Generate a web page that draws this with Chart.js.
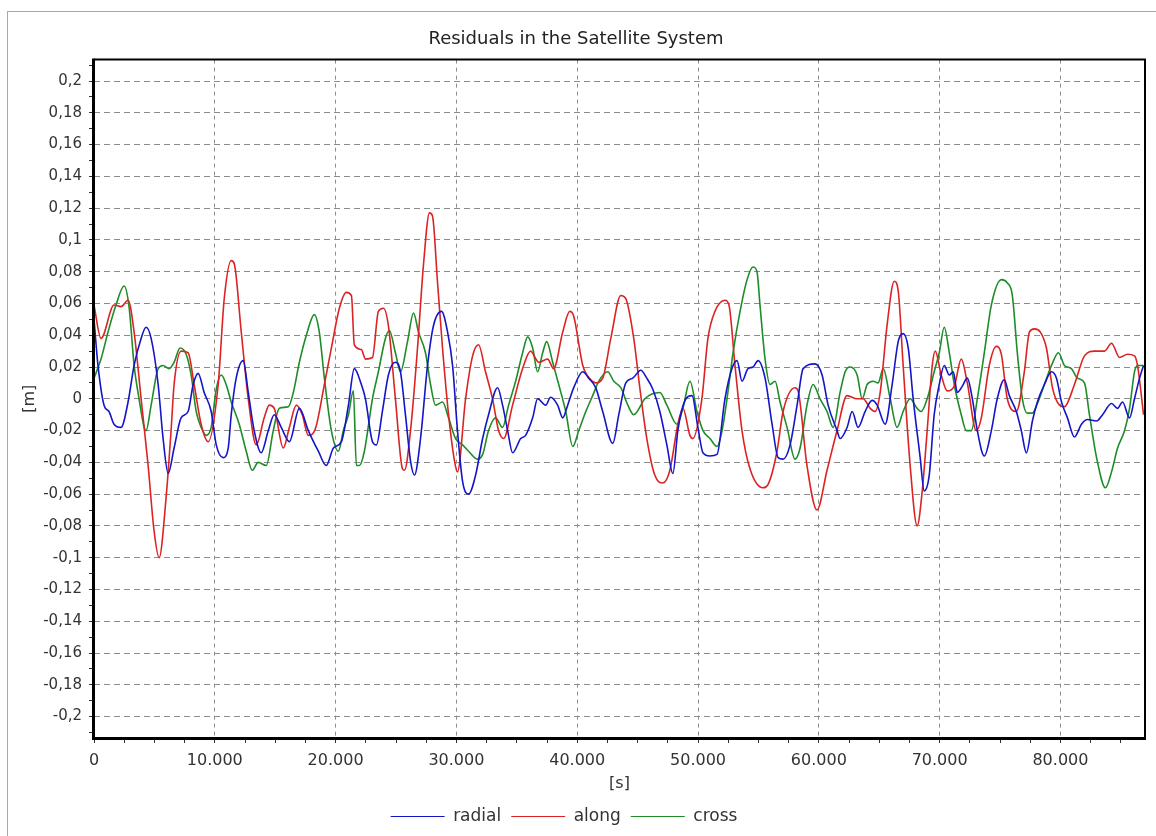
<!DOCTYPE html>
<html>
<head>
<meta charset="utf-8">
<title>Residuals in the Satellite System</title>
<script src="https://cdn.jsdelivr.net/npm/chart.js@4.4.1/dist/chart.umd.min.js"></script>
<style>
  html, body { margin: 0; padding: 0; background: #fff; }
  #chart { display: block; }
</style>
</head>
<body>
<canvas id="chart" width="1156" height="836"></canvas>
<script>
// Werte (Zeit in s, Residuen in m)
const radialTime = [0,330,830,1240,1660,2240,2820,3320,3900,4310,4730,5310,5720,6140,6630,7210,7790,8210,8620,9120,9700,10120,10690,11110,11360,11770,12350,12770,13260,13840,14430,14920,15500,16170,17000,17740,18570,19230,19820,20480,21060,21550,22130,22470,23050,23380,23870,24370,24950,25370,25780,26200,26530,27030,27610,28100,28770,29270,29680,30090,30510,31010,31590,32170,32660,33410,33820,34240,34650,35320,35730,36310,36720,37390,37800,38380,38800,39210,39710,40460,40950,41530,42110,42940,43440,44020,44600,45260,45760,46260,46840,47420,47920,48330,48920,49500,49990,50410,50990,51570,52230,52810,53230,53640,54140,54550,54970,55550,56130,56630,57040,57620,58200,58700,59690,60270,60770,61510,61760,62340,62760,63250,63830,64410,64830,65490,66070,66570,66980,67400,67810,68390,68720,69140,69550,69970,70380,70800,71130,71460,71880,72290,72710,73120,73700,74280,74770,75350,75770,76350,76760,77180,77680,78090,78670,79260,79670,80090,80580,81160,81740,82240,82990,83490,84230,84730,85140,85720,86130,86550,86880];
const radialValue = [0.05,0.021,-0.004,-0.008,-0.016,-0.018,-0.002,0.021,0.038,0.045,0.038,0.009,-0.025,-0.047,-0.031,-0.012,-0.008,0.009,0.016,0.004,-0.008,-0.029,-0.037,-0.031,-0.01,0.013,0.024,0.004,-0.02,-0.034,-0.02,-0.01,-0.018,-0.027,-0.006,-0.02,-0.033,-0.042,-0.031,-0.027,-0.004,0.019,0.009,0,-0.027,-0.029,-0.008,0.015,0.023,0.017,-0.01,-0.039,-0.048,-0.025,0.021,0.046,0.055,0.042,0.021,-0.02,-0.052,-0.06,-0.048,-0.025,-0.01,0.007,-0.004,-0.02,-0.034,-0.025,-0.023,-0.012,0,-0.004,0.001,-0.004,-0.012,-0.004,0.007,0.017,0.013,0.007,-0.008,-0.028,-0.01,0.01,0.013,0.018,0.013,0.006,-0.008,-0.029,-0.047,-0.02,-0.001,0.002,-0.018,-0.034,-0.036,-0.035,0,0.019,0.024,0.011,0.019,0.02,0.024,0.013,-0.016,-0.037,-0.038,-0.029,-0.004,0.019,0.022,0.015,-0.004,-0.02,-0.025,-0.018,-0.008,-0.018,-0.008,-0.001,-0.004,-0.016,0.009,0.036,0.041,0.032,0,-0.037,-0.058,-0.048,-0.01,0.009,0.021,0.015,0.017,0.004,0.008,0.013,0,-0.02,-0.036,-0.02,0,0.012,0.002,-0.008,-0.02,-0.034,-0.014,-0.002,0.009,0.017,0.013,-0.002,-0.012,-0.024,-0.016,-0.013,-0.014,-0.01,-0.003,-0.006,-0.002,-0.012,0,0.013,0.021];

const alongTime = [0,580,1660,2240,2820,3320,3900,4480,4970,5390,5970,6380,6630,7210,7790,8290,8870,9450,10280,10780,11360,11610,12190,12770,13430,14090,14510,14920,15670,16170,16750,17240,17740,18320,19070,19650,20310,20890,21310,21550,22130,22470,23050,23540,23960,24370,24950,25530,25700,26200,26780,27270,27770,28020,28430,28850,29350,29840,30090,30760,31340,31830,32410,32990,33490,33910,34650,35480,36140,36810,37550,38050,38800,39380,39710,40460,41120,41530,42110,42780,43610,44020,44680,45180,45760,46420,47090,47670,48330,48750,49330,49570,50320,50820,51400,52230,52560,53060,53640,54300,55380,55790,56540,57040,58030,58280,59020,59850,60680,61510,62340,63170,63670,64250,64660,65080,65660,66240,66570,66980,67560,68140,68560,68970,69390,69640,70130,70630,71210,71790,72290,73030,73450,74110,74690,75110,75600,76350,77010,77430,77840,78340,78840,79340,79920,80330,81160,81990,82820,83650,84230,84890,85550,86130,86380,86880];
const alongValue = [0.059,0.038,0.059,0.058,0.062,0.042,0,-0.042,-0.083,-0.1,-0.062,-0.02,0.009,0.03,0.029,0.009,-0.016,-0.027,0.009,0.063,0.087,0.085,0.042,0,-0.029,-0.012,-0.004,-0.006,-0.031,-0.018,-0.004,-0.01,-0.023,-0.019,0.009,0.032,0.057,0.067,0.065,0.034,0.031,0.025,0.026,0.055,0.057,0.046,0,-0.044,-0.045,-0.02,0.032,0.084,0.117,0.115,0.074,0.032,-0.01,-0.039,-0.046,0,0.027,0.034,0.017,0,-0.02,-0.025,-0.004,0.019,0.03,0.023,0.025,0.019,0.042,0.055,0.052,0.021,0.012,0.01,0.013,0.038,0.065,0.063,0.038,0.007,-0.025,-0.048,-0.053,-0.045,-0.016,-0.006,-0.023,-0.025,0,0.038,0.055,0.062,0.059,0.021,-0.02,-0.044,-0.056,-0.054,-0.033,-0.008,0.007,0.005,-0.042,-0.07,-0.045,-0.02,0.002,0,0,-0.006,-0.008,0.004,0.047,0.074,0.068,0.021,-0.042,-0.08,-0.058,-0.02,0.021,0.03,0.015,0.005,0.008,0.025,0.01,-0.02,-0.012,0.021,0.033,0.028,0,-0.008,0.017,0.042,0.044,0.042,0.032,0.007,-0.004,-0.005,0.009,0.027,0.03,0.03,0.035,0.026,0.028,0.027,0.021,-0.01];

const crossTime = [0,580,1160,1820,2490,2900,3320,3730,4150,4310,4730,5310,5720,6220,6630,7130,7630,8040,8460,8870,9290,9700,10120,10530,10940,11360,12020,12600,13100,13590,14260,14840,15340,16090,16500,17000,17580,18240,18650,19070,19650,20230,20640,21060,21470,21720,21970,22380,23050,23540,24120,24450,24950,25370,25950,26450,26860,27440,27860,28270,28850,29350,29930,30510,31010,31750,32170,32660,33240,33820,34320,34900,35480,35900,36310,36720,37140,37470,37970,38470,39050,39630,40130,40710,41280,41780,42530,43030,43610,44190,44680,45600,46180,46840,47420,48250,48750,49330,49910,50410,50990,51570,51990,52400,52900,53480,54060,54550,54880,55130,55550,55960,56380,56790,57370,58030,58450,59020,59520,60100,60680,61180,61760,62180,62590,63170,63590,64000,64500,64910,65330,65910,66480,66980,67560,68140,68470,68970,69550,69970,70380,70800,71210,71790,72210,72620,73120,73700,74280,75110,75600,76020,76430,76850,77260,77680,78090,78670,79260,79840,80330,80910,81410,81990,82400,82990,83730,84230,84730,85310,85720,86130,86380,86880];
const crossValue = [0.013,0.025,0.042,0.059,0.071,0.058,0.021,0,-0.018,-0.02,-0.004,0.019,0.021,0.019,0.023,0.032,0.028,0.015,-0.008,-0.018,-0.023,-0.018,0.006,0.015,0.009,-0.002,-0.016,-0.033,-0.045,-0.04,-0.042,-0.02,-0.006,-0.005,0.004,0.023,0.04,0.053,0.042,0.013,-0.02,-0.033,-0.02,-0.01,0.005,-0.042,-0.042,-0.033,0,0.017,0.038,0.043,0.029,0.017,0.036,0.054,0.042,0.029,0.009,-0.004,-0.002,-0.012,-0.025,-0.029,-0.033,-0.038,-0.035,-0.02,-0.012,-0.018,-0.004,0.011,0.029,0.039,0.032,0.017,0.029,0.036,0.023,0.009,-0.008,-0.03,-0.02,-0.008,0.002,0.011,0.017,0.011,0.007,-0.004,-0.01,0,0.003,0.004,-0.004,-0.016,-0.006,0.011,-0.008,-0.02,-0.025,-0.03,-0.02,0,0.029,0.055,0.075,0.083,0.08,0.059,0.025,0.009,0.011,-0.002,-0.018,-0.038,-0.031,-0.004,0.009,0,-0.008,-0.018,0.004,0.017,0.02,0.015,0,0.009,0.011,0.01,0.019,0,-0.018,-0.008,0,-0.006,-0.008,0,0.017,0.029,0.045,0.029,0.009,-0.01,-0.02,-0.02,0,0.029,0.059,0.075,0.073,0.065,0.029,0,-0.009,-0.009,-0.003,0.009,0.021,0.029,0.021,0.019,0.013,0.01,-0.01,-0.037,-0.056,-0.046,-0.031,-0.02,-0.006,0.017,0.021,0.021];

const seriesNames = ['radial', 'along', 'cross'];
const seriesColors = ['#1414c8', '#dc2323', '#1e8c28'];

// Achsen: beschriftete Hauptticks, dazwischen kleine Nebenticks
const xMajorTicks = [0, 10000, 20000, 30000, 40000, 50000, 60000, 70000, 80000];
const xMinorStep = 2500;
const xRange = [0, 87000];
const yMajorTicks = [-0.2, -0.18, -0.16, -0.14, -0.12, -0.1, -0.08, -0.06, -0.04, -0.02, 0, 0.02, 0.04, 0.06, 0.08, 0.1, 0.12, 0.14, 0.16, 0.18, 0.2];
const yMinorStep = 0.01;
const yRange = [-0.2135, 0.2135];

const fontFamily = '"DejaVu Sans", "Liberation Sans", Arial, sans-serif';
const textColor = '#333333';
const gridColor = '#8c8c8c';

function toPoints(times, values) {
    const n = Math.min(times.length, values.length);
    const pts = [];
    for (let i = 0; i < n; i++) {
        pts.push({ x: times[i], y: values[i] });
    }
    return pts;
}

function isMajor(list, v) {
    return list.some(m => Math.abs(m - v) < 1e-6);
}

// alle Tickpositionen zwischen min und max
function tickList(min, max, step) {
    const out = [];
    const first = Math.ceil(min / step - 1e-9);
    const last = Math.floor(max / step + 1e-9);
    for (let i = first; i <= last; i++) {
        out.push({ value: Math.round(i * step * 1e6) / 1e6 });
    }
    return out;
}

// 10000 -> "10.000"
function formatSeconds(v) {
    return String(Math.round(v)).replace(/\B(?=(\d{3})+(?!\d))/g, '.');
}

// 0.12 -> "0,12"
function formatMeters(v) {
    const r = Math.round(v * 100) / 100;
    return String(r).replace('.', ',');
}

// weißer Hintergrund, grauer Außenrahmen und schwarzer Plotrahmen
const framePlugin = {
    id: 'frame',
    afterLayout(chart) {
        // Legende sitzt im Original etwas links der Mitte
        chart.legend.left -= 12;
        chart.legend.right -= 12;
    },
    beforeDraw(chart) {
        const ctx = chart.ctx;
        ctx.save();
        ctx.fillStyle = '#ffffff';
        ctx.fillRect(0, 0, chart.width, chart.height);
        ctx.strokeStyle = '#a8a8a8';
        ctx.lineWidth = 1;
        ctx.strokeRect(7.5, 11.5, chart.width, chart.height);
        ctx.restore();
    },
    afterDatasetsDraw(chart) {
        const ctx = chart.ctx;
        const a = chart.chartArea;
        ctx.save();
        ctx.strokeStyle = '#000000';
        ctx.lineWidth = 2;
        ctx.beginPath();
        ctx.moveTo(a.left, a.top);
        ctx.lineTo(a.right, a.top);
        ctx.lineTo(a.right, a.bottom);
        ctx.stroke();
        ctx.lineWidth = 3;
        ctx.beginPath();
        ctx.moveTo(a.left - 0.5, a.top - 1);
        ctx.lineTo(a.left - 0.5, a.bottom + 0.5);
        ctx.lineTo(a.right + 1, a.bottom + 0.5);
        ctx.stroke();
        ctx.restore();
    }
};

const ctx = document.getElementById('chart').getContext('2d');
const chart = new Chart(ctx, {
    type: 'line',
    data: {
        datasets: [
            { label: seriesNames[0], data: toPoints(radialTime, radialValue), borderColor: seriesColors[0], backgroundColor: seriesColors[0] },
            { label: seriesNames[1], data: toPoints(alongTime, alongValue), borderColor: seriesColors[1], backgroundColor: seriesColors[1] },
            { label: seriesNames[2], data: toPoints(crossTime, crossValue), borderColor: seriesColors[2], backgroundColor: seriesColors[2] }
        ]
    },
    options: {
        responsive: false,
        animation: false,
        devicePixelRatio: 1,
        layout: {
            padding: { left: 7, right: 11, top: 11, bottom: 1 }
        },
        elements: {
            point: { radius: 0, hoverRadius: 0 },
            line: { borderWidth: 1.6, cubicInterpolationMode: 'monotone', fill: false }
        },
        plugins: {
            title: {
                display: true,
                text: 'Residuals in the Satellite System',
                color: '#222222',
                font: { family: fontFamily, size: 18, weight: 'normal' },
                padding: { top: 18, bottom: 9 }
            },
            legend: {
                position: 'bottom',
                labels: {
                    usePointStyle: true,
                    pointStyle: 'line',
                    pointStyleWidth: 54,
                    padding: 10,
                    color: textColor,
                    font: { family: fontFamily, size: 17 }
                }
            },
            tooltip: { enabled: false }
        },
        scales: {
            x: {
                type: 'linear',
                min: xRange[0],
                max: xRange[1],
                afterBuildTicks(scale) { scale.ticks = tickList(xRange[0], xRange[1], xMinorStep); },
                afterFit(scale) { scale.height = 60; },
                border: { display: false, dash: [4, 4] },
                grid: {
                    color: (c) => (c.tick && c.tick.value > 0 && isMajor(xMajorTicks, c.tick.value)) ? gridColor : 'rgba(0,0,0,0)',
                    lineWidth: 1,
                    tickColor: '#333333',
                    tickLength: 5
                },
                ticks: {
                    autoSkip: false,
                    maxRotation: 0,
                    padding: 8,
                    color: textColor,
                    font: { family: fontFamily, size: 16 },
                    callback: (v) => (isMajor(xMajorTicks, v) ? formatSeconds(v) : '')
                },
                title: {
                    display: true,
                    text: '[s]',
                    color: textColor,
                    font: { family: fontFamily, size: 16 },
                    padding: { top: 0, bottom: 5 }
                }
            },
            y: {
                min: yRange[0],
                max: yRange[1],
                afterBuildTicks(scale) { scale.ticks = tickList(yRange[0], yRange[1], yMinorStep); },
                afterFit(scale) { scale.width = 87; },
                border: { display: false, dash: [6, 4] },
                grid: {
                    color: (c) => (c.tick && isMajor(yMajorTicks, c.tick.value)) ? gridColor : 'rgba(0,0,0,0)',
                    lineWidth: 1,
                    tickColor: '#333333',
                    tickLength: 5
                },
                ticks: {
                    autoSkip: false,
                    padding: 7,
                    color: textColor,
                    font: { family: fontFamily, size: 15 },
                    callback: (v) => (isMajor(yMajorTicks, v) ? formatMeters(v) : '')
                },
                title: {
                    display: true,
                    text: '[m]',
                    color: textColor,
                    font: { family: fontFamily, size: 16 },
                    padding: { top: 13, bottom: 0 }
                }
            }
        }
    },
    plugins: [framePlugin]
});
</script>
</body>
</html>
